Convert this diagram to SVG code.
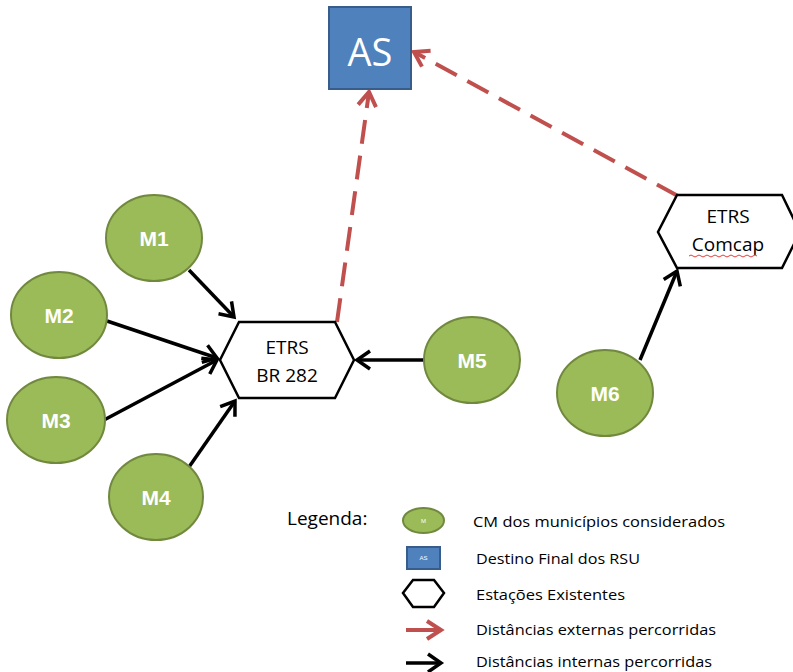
<svg xmlns="http://www.w3.org/2000/svg" width="793" height="672" viewBox="0 0 793 672">
<style>
.m{fill:#9BBB59;stroke:#71893F;stroke-width:2}
.mt{font-family:"Liberation Sans",Arial,sans-serif;font-weight:bold;font-size:21px;fill:#fff;text-anchor:middle}
.hex{fill:#fff;stroke:#000;stroke-width:2.5}
.ht{font-family:"Open Sans","Liberation Sans",sans-serif;font-size:19px;fill:#000;text-anchor:middle}
.as{fill:#4F81BD;stroke:#385D8A;stroke-width:2}
.blk{stroke:#000;stroke-width:3.5;fill:none;marker-end:url(#ab)}
.red{stroke:#C0504D;stroke-width:4;fill:none;stroke-dasharray:24 12;marker-end:url(#ar)}
.lt{font-family:"Open Sans","Liberation Sans",sans-serif;font-size:14px;fill:#000}
</style>
<defs>
<marker id="ab" markerUnits="userSpaceOnUse" markerWidth="24" markerHeight="24" viewBox="0 0 24 24" refX="18" refY="12" orient="auto">
<path d="M5,3 L18,12 L5,21" fill="none" stroke="#000" stroke-width="3.5"/>
</marker>
<marker id="ar" markerUnits="userSpaceOnUse" markerWidth="26" markerHeight="26" viewBox="0 0 26 26" refX="20" refY="13" orient="auto">
<path d="M6,4 L20,13 L6,22" fill="none" stroke="#C0504D" stroke-width="4"/>
</marker>
</defs>
<g id="connectors">
<line class="red" x1="337" y1="322" x2="369" y2="92"/>
<line class="red" x1="678" y1="196" x2="414" y2="52"/>
<line class="blk" x1="189" y1="270" x2="234" y2="317"/>
<line class="blk" x1="107" y1="321" x2="217" y2="358"/>
<line class="blk" x1="104" y1="420" x2="217" y2="360"/>
<line class="blk" x1="189" y1="467" x2="235" y2="401"/>
<line class="blk" x1="425" y1="360" x2="357" y2="360"/>
<line class="blk" x1="640" y1="360" x2="677" y2="271"/>
</g>
<g id="AS">
<rect class="as" x="329" y="7" width="82" height="82"/>
<text x="370" y="66" font-family="'Open Sans','Liberation Sans',sans-serif" font-size="38" fill="#fff" text-anchor="middle">AS</text>
</g>
<g id="ETRS_BR282">
<polygon class="hex" points="239,322 335,322 354,360 335,398 239,398 220,360"/>
<text class="ht" x="287" y="354">ETRS</text>
<text class="ht" x="287" y="382">BR 282</text>
</g>
<g id="ETRS_Comcap">
<polygon class="hex" points="677,195 782,195 800,232 782,268 677,268 658,232"/>
<text class="ht" x="728" y="223">ETRS</text>
<text class="ht" x="728" y="251">Comcap</text>
<path d="M689,256 q2,-2 4,0 t4,0 t4,0 t4,0 t4,0 t4,0 t4,0 t4,0 t4,0 t4,0 t4,0 t4,0 t4,0 t4,0 t4,0 t4,0 t4,0" fill="none" stroke="#E0403A" stroke-width="1"/>
</g>
<g id="M1"><ellipse class="m" cx="154" cy="238" rx="48" ry="43"/><text class="mt" x="154" y="246">M1</text></g>
<g id="M2"><ellipse class="m" cx="59" cy="315" rx="48" ry="43"/><text class="mt" x="59" y="323">M2</text></g>
<g id="M3"><ellipse class="m" cx="56" cy="420" rx="49" ry="43"/><text class="mt" x="56" y="428">M3</text></g>
<g id="M4"><ellipse class="m" cx="156" cy="497" rx="47" ry="43"/><text class="mt" x="156" y="505">M4</text></g>
<g id="M5"><ellipse class="m" cx="472" cy="360" rx="48" ry="43"/><text class="mt" x="472" y="368">M5</text></g>
<g id="M6"><ellipse class="m" cx="605" cy="393" rx="48" ry="43"/><text class="mt" x="605" y="401">M6</text></g>
<g id="legend">
<text x="287" y="525" font-family="'Open Sans','Liberation Sans',sans-serif" font-size="19" fill="#000">Legenda:</text>
<ellipse class="m" cx="423.5" cy="520.5" rx="20.5" ry="12.5"/>
<text x="423.5" y="523" font-family="'Liberation Sans',sans-serif" font-size="6" fill="#fff" text-anchor="middle">M</text>
<text class="lt" x="473" y="527" textLength="252" lengthAdjust="spacingAndGlyphs">CM dos municípios considerados</text>
<rect class="as" x="407" y="547" width="33" height="22" stroke-width="1"/>
<text x="423.5" y="560" font-family="'Liberation Sans',sans-serif" font-size="6" fill="#fff" text-anchor="middle">AS</text>
<text class="lt" x="476" y="564" textLength="164" lengthAdjust="spacingAndGlyphs">Destino Final dos RSU</text>
<polygon points="403,593 413,580 434,580 444,593 434,607 413,607" fill="#fff" stroke="#000" stroke-width="2.5"/>
<text class="lt" x="476" y="600" textLength="149" lengthAdjust="spacingAndGlyphs">Estações Existentes</text>
<line x1="406" y1="630" x2="441" y2="630" stroke="#C0504D" stroke-width="4" marker-end="url(#ar)"/>
<text class="lt" x="476" y="635" textLength="240" lengthAdjust="spacingAndGlyphs">Distâncias externas percorridas</text>
<line x1="406" y1="663" x2="441" y2="663" stroke="#000" stroke-width="3.5" marker-end="url(#ab)"/>
<text class="lt" x="476" y="667" textLength="236" lengthAdjust="spacingAndGlyphs">Distâncias internas percorridas</text>
</g>
</svg>
